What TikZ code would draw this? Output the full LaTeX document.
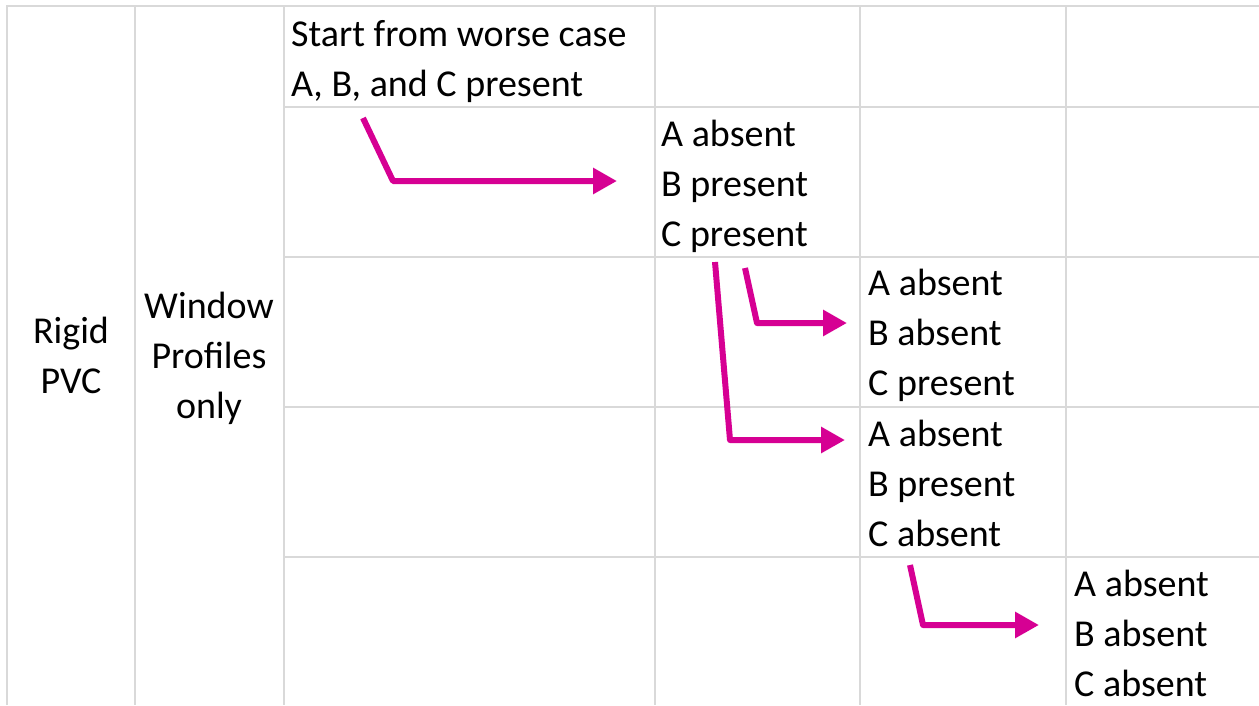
\documentclass[tikz,border=0pt]{standalone}
\usepackage{fontspec}
\setmainfont{Carlito}
\usetikzlibrary{arrows.meta}
\definecolor{gridgray}{RGB}{217,217,217}
\definecolor{flowmag}{RGB}{214,0,147}
\tikzset{
  gridline/.style={draw=gridgray, line width=2.5pt},
  celltext/.style={inner sep=0pt, align=left, anchor=base west, font=\fontsize{38}{50}\selectfont},
  headtext/.style={inner sep=0pt, align=center, anchor=base, font=\fontsize{38}{50}\selectfont},
  flow/.style={draw=flowmag, line width=6pt, line join=round, -{Triangle[length=24pt,width=25pt]}}
}
\begin{document}
\begin{tikzpicture}[x=1pt,y=-1pt]
\useasboundingbox (0,0) rectangle (1259,705);
% grid
\draw[gridline] (7,705) -- (7,6) -- (1259,6);
\foreach \xx in {135,284,655,860,1066} \draw[gridline] (\xx,6) -- (\xx,705);
\foreach \yy in {107,257,407,557} \draw[gridline] (284,\yy) -- (1259,\yy);
% header texts (anchor = baseline of last line)
\node[headtext] (rigid) at (71,393) {Rigid\\PVC};
\node[headtext] (window) at (209,418) {Window\\Profiles\\only};
% cells
\node[celltext] (start) at (291,96) {Start from worse case\\A, B, and C present};
\node[celltext] (s1) at (661,246) {A absent\\B present\\C present};
\node[celltext] (s2) at (868,395) {A absent\\B absent\\C present};
\node[celltext] (s3) at (868,546) {A absent\\B present\\C absent};
\node[celltext] (s4) at (1074,696) {A absent\\B absent\\C absent};
% arrow points
\coordinate (a1s) at (363,118); \coordinate (a1c) at (393,181); \coordinate (a1e) at (617,181);
\coordinate (a2s) at (745,268); \coordinate (a2c) at (757,323); \coordinate (a2e) at (847,323);
\coordinate (a3s) at (715,262); \coordinate (a3c) at (730,440); \coordinate (a3e) at (845,440);
\coordinate (a4s) at (910,565); \coordinate (a4c) at (923,625); \coordinate (a4e) at (1039,625);
\draw[flow] (a1s) -- (a1c) -- (a1e);
\draw[flow] (a2s) -- (a2c) -- (a2e);
\draw[flow] (a3s) -- (a3c) -- (a3e);
\draw[flow] (a4s) -- (a4c) -- (a4e);
\end{tikzpicture}
\end{document}
